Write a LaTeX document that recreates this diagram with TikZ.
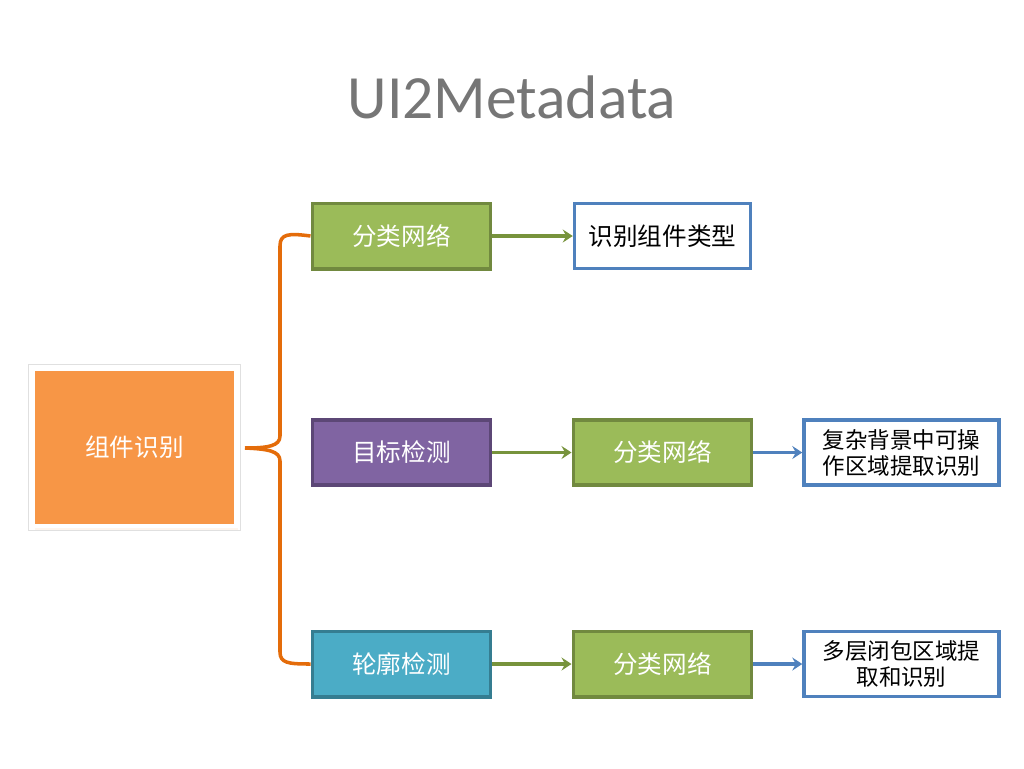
\documentclass[tikz,border=0pt]{standalone}
\usepackage{fontspec}
\setmainfont{Carlito}
\newfontfamily\cjk{Noto Sans CJK SC}
\usetikzlibrary{shadows,arrows.meta}
\definecolor{titlegray}{RGB}{118,118,118}
\definecolor{grfill}{RGB}{155,187,89}
\definecolor{grline}{RGB}{113,137,63}
\definecolor{pufill}{RGB}{128,100,162}
\definecolor{puline}{RGB}{92,71,118}
\definecolor{tefill}{RGB}{75,172,198}
\definecolor{teline}{RGB}{53,125,145}
\definecolor{orfill}{RGB}{247,150,70}
\definecolor{orline}{RGB}{228,108,10}
\definecolor{blline}{RGB}{79,129,189}
\definecolor{grarrow}{RGB}{119,147,60}
\tikzset{
  box/.style={minimum width=3.57cm, minimum height=1.31cm, line width=2pt,
    text=white, font=\cjk\fontsize{14}{16}\selectfont,
    drop shadow={opacity=0.25, shadow xshift=0.03cm, shadow yshift=-0.03cm}},
  green/.style={box, fill=grfill, draw=grline},
  purple/.style={box, fill=pufill, draw=puline},
  teal/.style={box, fill=tefill, draw=teline},
  result/.style={minimum width=3.52cm, minimum height=1.3cm, line width=2pt,
    draw=blline, fill=white, text=black, font=\cjk\fontsize{14}{16}\selectfont},
  wide/.style={result, minimum width=3.9cm, align=center,
    font=\cjk\fontsize{12.8}{14.8}\selectfont},
  garrow/.style={->, grarrow, line width=2.1pt},
  barrow/.style={->, blline, line width=2.1pt},
  brace/.style={orline, line width=2pt, line join=round}
}
\begin{document}
\begin{tikzpicture}[x=0.02cm, y=-0.02cm, >={Stealth[length=0.2cm, width=0.26cm, inset=0.07cm]}]
\useasboundingbox (0,0) rectangle (1024,768);

\node[titlegray, font=\fontsize{35}{40}\selectfont] (title) at (512,97) {UI2Metadata};

\node[fill=orfill, draw=white, line width=2.4pt, minimum width=4.06cm, minimum height=3.14cm,
  text=white, font=\cjk\fontsize{14}{16}\selectfont,
  double copy shadow={opacity=0.12, shadow xshift=0.02cm, shadow yshift=-0.04cm}] (comp) at (134.5,447.5) {组件识别};
\draw[black!12, line width=0.4pt] (comp.north west) ++(-0.05cm,0.05cm) rectangle ([shift={(0.05cm,-0.05cm)}]comp.south east);

\node[green] (cls) at (401.5,236) {分类网络};
\node[result] (type) at (662.5,236) {识别组件类型};

\node[purple] (det) at (401.5,452.5) {目标检测};
\node[green] (cls2) at (662.5,452.5) {分类网络};
\node[wide] (area) at (901.5,452.5) {复杂背景中可操\\作区域提取识别};

\node[teal] (cnt) at (401.5,664) {轮廓检测};
\node[green] (cls3) at (662.5,664) {分类网络};
\node[wide] (closed) at (901.5,664) {多层闭包区域提\\取和识别};

\coordinate (tip) at (245,448);
\draw[brace] (cls.west) .. controls (288,233) and (280,234) .. (280,246) -- (280,436)
  .. controls (280,446) and (268,448) .. (tip);
\draw[brace] (tip) .. controls (268,449) and (280,451) .. (280,461) -- (280,652)
  .. controls (280,663) and (288,664) .. (cnt.west);

\draw[garrow] (cls) -- (type);
\draw[garrow] (det) -- (cls2);
\draw[garrow] (cnt) -- (cls3);
\draw[barrow] (cls2) -- (area);
\draw[barrow] (cls3) -- (closed);
\end{tikzpicture}
\end{document}
